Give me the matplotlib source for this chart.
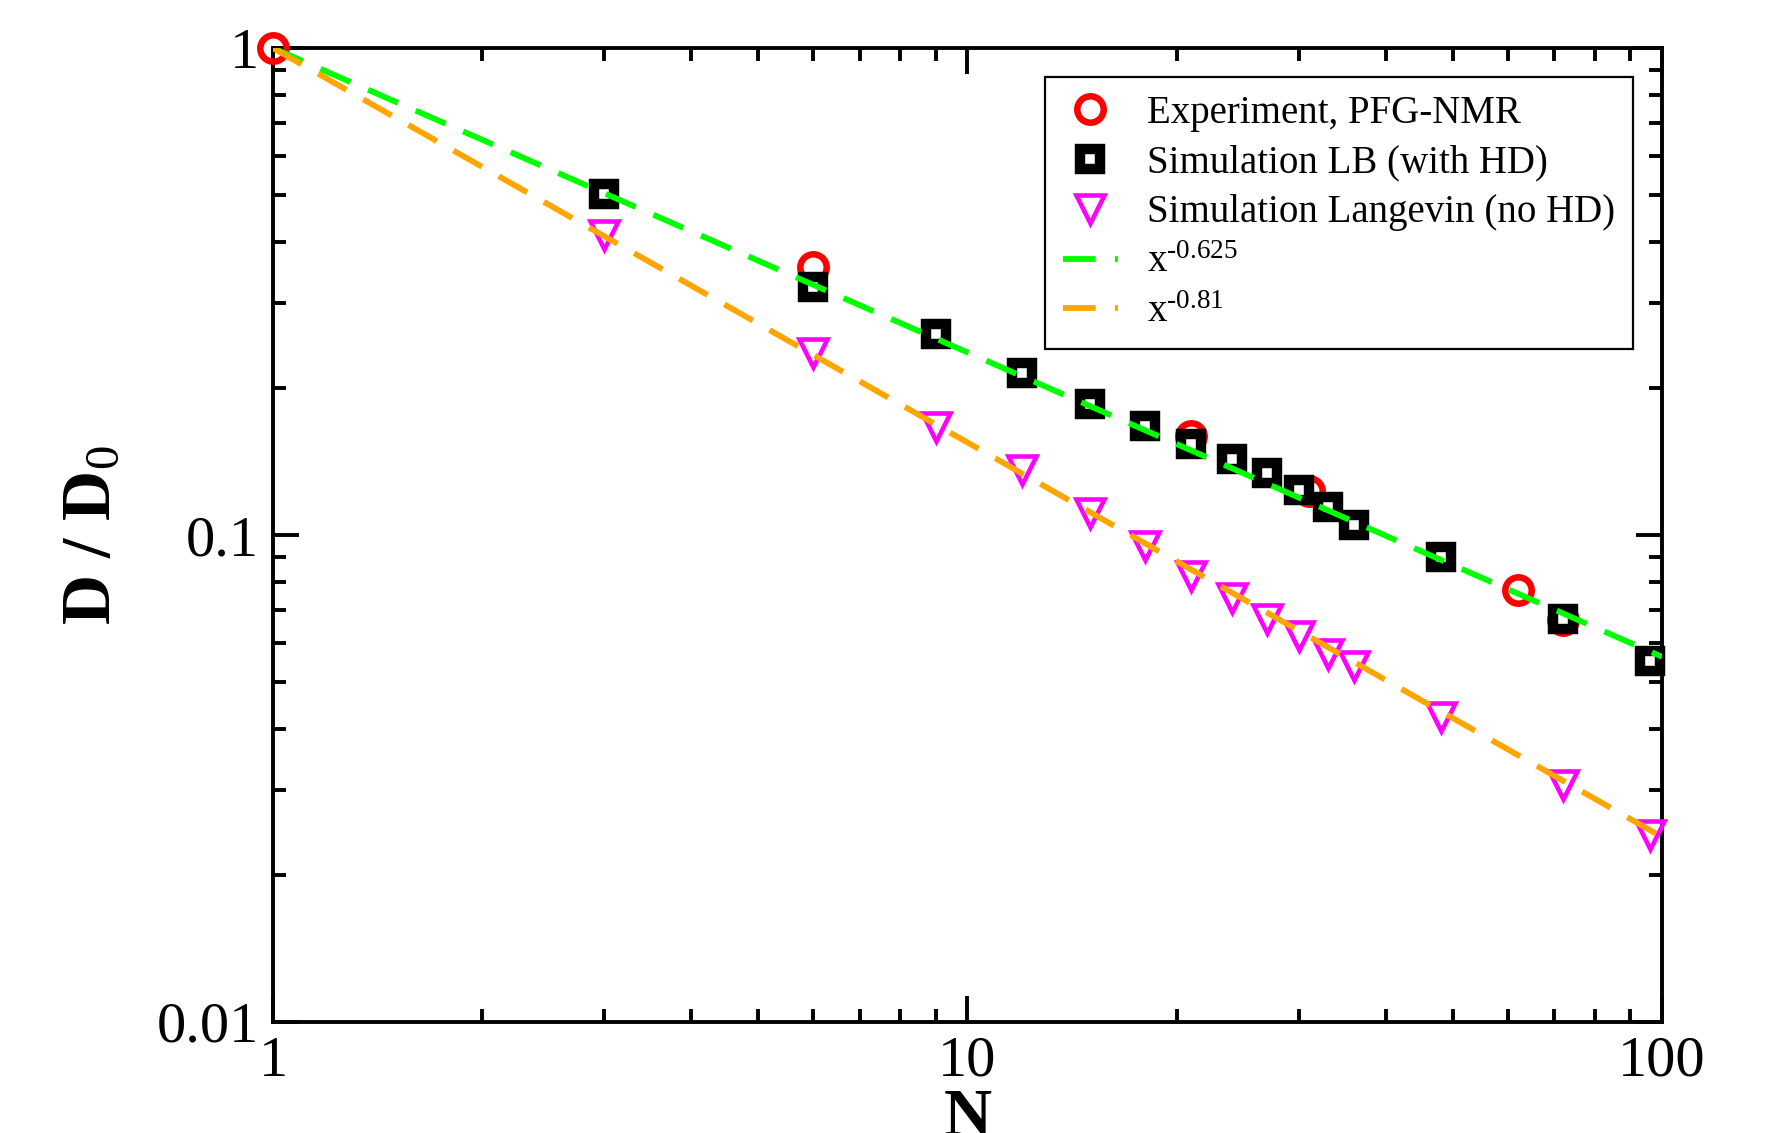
import matplotlib
matplotlib.use("Agg")
from matplotlib import pyplot as plt
import numpy as np

# Experiment (PFG-NMR)
n_exp = [1, 6, 21, 31, 62, 72]
d_exp = [1.0, 0.355, 0.160, 0.123, 0.0772, 0.0668]

# Simulation LB (with HD)
n_lb = [3, 6, 9, 12, 15, 18, 21, 24, 27, 30, 33, 36, 48, 72, 96]
d_lb = [0.501, 0.323, 0.259, 0.215, 0.186, 0.1675, 0.154, 0.143, 0.134,
        0.124, 0.114, 0.105, 0.0903, 0.0672, 0.0552]

# Simulation Langevin (no HD)
n_lv = [3, 6, 9, 12, 15, 18, 21, 24, 27, 30, 33, 36, 48, 72, 96]
d_lv = [0.413, 0.237, 0.167, 0.136, 0.111, 0.0951, 0.0825, 0.0743, 0.0673,
        0.0621, 0.0569, 0.0537, 0.0423, 0.0306, 0.0242]

# power-law guides
fit_range = [1, 100]
exp_hd = '-0.625'
exp_nohd = '-0.81'

plt.rcParams['font.family'] = ['Liberation Serif', 'DejaVu Serif']
plt.rcParams['mathtext.fontset'] = 'custom'
plt.rcParams['mathtext.rm'] = 'Liberation Serif'
plt.rcParams['mathtext.it'] = 'Liberation Serif:italic'
plt.rcParams['mathtext.bf'] = 'Liberation Serif:bold'

fig = plt.figure(figsize=(17.76, 11.33), dpi=100)
ax = fig.add_axes([0.1537, 0.098, 0.7821, 0.8596])

ax.plot(n_exp, d_exp, 'o', ls='none', ms=19, mew=4.7, mfc='none', mec='#ff0000',
        label='Experiment, PFG-NMR', zorder=3, clip_on=False)
ax.plot(n_lb, d_lb, 's', ls='none', ms=14.5, mew=7.5, mfc='white', mec='black',
        label='Simulation LB (with HD)', zorder=3, clip_on=False)
ax.plot(n_lv, d_lv, 'v', ls='none', ms=20, mew=3.3, mfc='none', mec='#ff00ff',
        label='Simulation Langevin (no HD)', zorder=3, clip_on=False)

xf = np.array(fit_range, dtype=float)
ax.plot(xf, xf**float(exp_hd), color='#00ff00', lw=4.2, dashes=(5.6, 3.3),
        label=r'x$^{\text{%s}}$' % exp_hd, zorder=4)
ax.plot(xf, xf**float(exp_nohd), color='#ffa500', lw=4.2, dashes=(5.6, 3.3),
        label=r'x$^{\text{%s}}$' % exp_nohd, zorder=4)

ax.set_xscale('log')
ax.set_yscale('log')
ax.set_xlim(1, 100)
ax.set_ylim(0.01, 1)

ax.set_xticks([1, 10, 100])
ax.set_xticklabels(['1', '10', '100'])
ax.set_yticks([0.01, 0.1, 1])
ax.set_yticklabels(['0.01', '0.1', '1'])

for s in ax.spines.values():
    s.set_linewidth(2.8)
ax.tick_params(which='both', direction='in', top=True, right=True, width=2.8)
ax.tick_params(which='major', length=19, labelsize=42, pad=10)
ax.tick_params(which='minor', length=9.5)

ax.set_xlabel('N', fontsize=48, fontweight='bold', labelpad=0)
ax.set_ylabel(r'D / D$_{\mathrm{0}}$', fontsize=50, fontweight='bold', labelpad=23)

leg = ax.legend(loc='upper right', fontsize=28, frameon=True, fancybox=False,
                edgecolor='black', framealpha=1, borderpad=0.45, labelspacing=0.33,
                handlelength=1.42, handletextpad=0.75, borderaxespad=0.75)
leg.get_frame().set_linewidth(1.6)
leg.set_zorder(5)

fig.savefig('out.png', dpi=100)
